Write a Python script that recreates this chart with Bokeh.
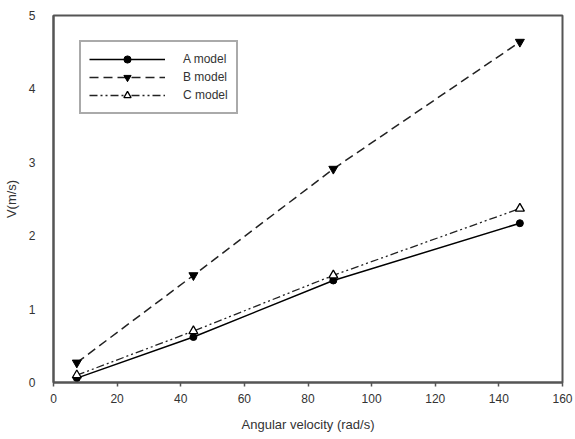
from bokeh.plotting import figure
from bokeh.models import Legend, LegendItem, FixedTicker, Range1d
from bokeh.embed import file_html
from bokeh.resources import INLINE

omega = [7.33, 43.98, 87.96, 146.6]
a_model = [0.06, 0.62, 1.39, 2.17]
b_model = [0.27, 1.46, 2.91, 4.64]
c_model = [0.10, 0.70, 1.46, 2.37]
x_ticks = [0, 20, 40, 60, 80, 100, 120, 140, 160]
y_ticks = [0, 1, 2, 3, 4, 5]
labels = ["A model", "B model", "C model"]

FONT = "Liberation Sans"
p = figure(frame_width=509, frame_height=367, output_backend="svg", toolbar_location=None,
           x_range=Range1d(0, 160), y_range=Range1d(0, 5),
           min_border_left=53, min_border_right=13, min_border_top=15, min_border_bottom=57)
p.grid.visible = False
p.outline_line_color = "#555555"
p.outline_line_width = 2
p.background_fill_color = "white"
p.border_fill_color = "white"

for ax in (p.xaxis[0], p.yaxis[0]):
    ax.axis_line_color = "#555555"
    ax.axis_line_width = 2
    ax.major_label_text_font = FONT
    ax.major_label_text_font_size = "12px"
    ax.major_label_text_color = "#333333"
    ax.axis_label_text_font = FONT
    ax.axis_label_text_font_size = "13px"
    ax.axis_label_text_font_style = "normal"
    ax.axis_label_text_color = "#333333"
    ax.minor_tick_line_color = None

p.xaxis.ticker = FixedTicker(ticks=x_ticks)
p.yaxis.ticker = FixedTicker(ticks=y_ticks)
p.xaxis.major_tick_line_color = "#555555"
p.xaxis.major_tick_line_width = 1.5
p.xaxis.major_tick_out = 4
p.xaxis.major_tick_in = 0
p.xaxis.major_label_standoff = 7
p.yaxis.major_tick_line_color = None
p.yaxis.major_label_standoff = 12
p.xaxis.axis_label = "Angular velocity (rad/s)"
p.yaxis.axis_label = "V(m/s)"
p.xaxis.axis_label_standoff = 11
p.yaxis.axis_label_standoff = 7

la = p.line(omega, a_model, line_color="black", line_width=1.5)
sa = p.scatter(omega, a_model, marker="circle", size=7, fill_color="black", line_color="black")
lb = p.line(omega, b_model, line_color="#222222", line_width=1.5, line_dash="9 5")
sb = p.scatter(omega, b_model, marker="inverted_triangle", size=9, fill_color="black", line_color="black")
lc = p.line(omega, c_model, line_color="#222222", line_width=1.3, line_dash="8 3 2 3 2 3")
sc = p.scatter(omega, c_model, marker="triangle", size=9, fill_color="white", line_color="black", line_width=1.3)

legend = Legend(items=[
    LegendItem(label=labels[0], renderers=[la, sa]),
    LegendItem(label=labels[1], renderers=[lb, sb]),
    LegendItem(label=labels[2], renderers=[lc, sc]),
], location=(26, 268))
legend.glyph_width = 76
legend.glyph_height = 18
legend.label_height = 18
legend.spacing = 0
legend.padding = 8
legend.label_standoff = 18
legend.label_text_font = FONT
legend.label_text_font_size = "12px"
legend.label_text_color = "#333333"
legend.border_line_color = "#555555"
legend.border_line_width = 2
legend.background_fill_alpha = 1
p.add_layout(legend, "center")

open("out.html", "w").write(file_html(p, INLINE))
